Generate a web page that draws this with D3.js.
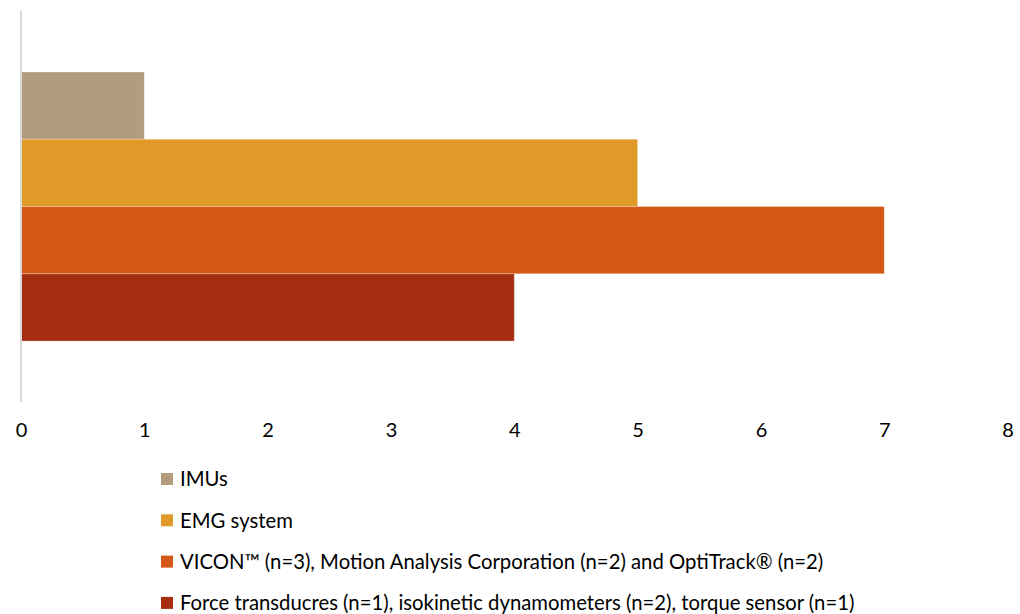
<!DOCTYPE html>
<html>
<head>
<meta charset="utf-8">
<script src="https://cdn.jsdelivr.net/npm/d3@7"></script>
<style>
  html, body { margin: 0; padding: 0; background: #fff; }
  svg { display: block; }
  text { font-family: Lato, "Open Sans", sans-serif; fill: #000; }
</style>
</head>
<body>
<svg id="chart" width="1020" height="614"></svg>
<script>
// Series (one bar each, single category)
const seriesNames = [
  "IMUs",
  "EMG system",
  "VICON™ (n=3), Motion Analysis Corporation (n=2) and OptiTrack® (n=2)",
  "Force transducres (n=1), isokinetic dynamometers (n=2), torque sensor (n=1)"
];
const seriesValues = [1, 5, 7, 4];
const seriesColors = ["#b39c7d", "#e09a28", "#d55816", "#a52e10"];
const xTicks = [0, 1, 2, 3, 4, 5, 6, 7, 8];

const svg = d3.select("#chart");
const plot = { left: 21, right: 1007.6, top: 11, bottom: 402 };

const x = d3.scaleLinear().domain([0, 8]).range([plot.left, plot.right]);
const y = d3.scaleBand()
  .domain(seriesNames)
  .range([plot.top, plot.bottom])
  .paddingInner(0)
  .paddingOuter(0.906);

// Bars
svg.append("g")
  .selectAll("rect")
  .data(seriesNames)
  .join("rect")
  .attr("x", x(0))
  .attr("y", d => y(d))
  .attr("width", (d, i) => x(seriesValues[i]) - x(0))
  .attr("height", y.bandwidth())
  .attr("fill", (d, i) => seriesColors[i])
  .attr("stroke", "#ffffff")
  .attr("stroke-opacity", 0.35)
  .attr("stroke-width", 0.8);

// Vertical category axis line
svg.append("line")
  .attr("x1", x(0)).attr("x2", x(0))
  .attr("y1", plot.top).attr("y2", plot.bottom)
  .attr("stroke", "#d9d9d9")
  .attr("stroke-width", 2);

// Value axis labels
const xAxis = d3.axisBottom(x).tickValues(xTicks).tickSize(0).tickPadding(0);
const gx = svg.append("g")
  .attr("transform", `translate(0, 423)`)
  .call(xAxis);
gx.select(".domain").remove();
gx.selectAll("text")
  .attr("dy", "0.71em")
  .style("font-family", "Lato, 'Open Sans', sans-serif")
  .style("font-size", "20px")
  .attr("fill", "#000");

// Legend
const legend = svg.append("g").attr("transform", "translate(161, 0)");
const rows = legend.selectAll("g")
  .data(seriesNames)
  .join("g")
  .attr("transform", (d, i) => `translate(0, ${479 + i * 41.3})`);
rows.append("rect")
  .attr("x", 0).attr("y", -6)
  .attr("width", 12).attr("height", 12)
  .attr("fill", (d, i) => seriesColors[i]);
rows.append("text")
  .attr("x", 19)
  .attr("y", 0)
  .attr("dy", "0.36em")
  .style("font-size", "20.3px")
  .text(d => d);
</script>
</body>
</html>
